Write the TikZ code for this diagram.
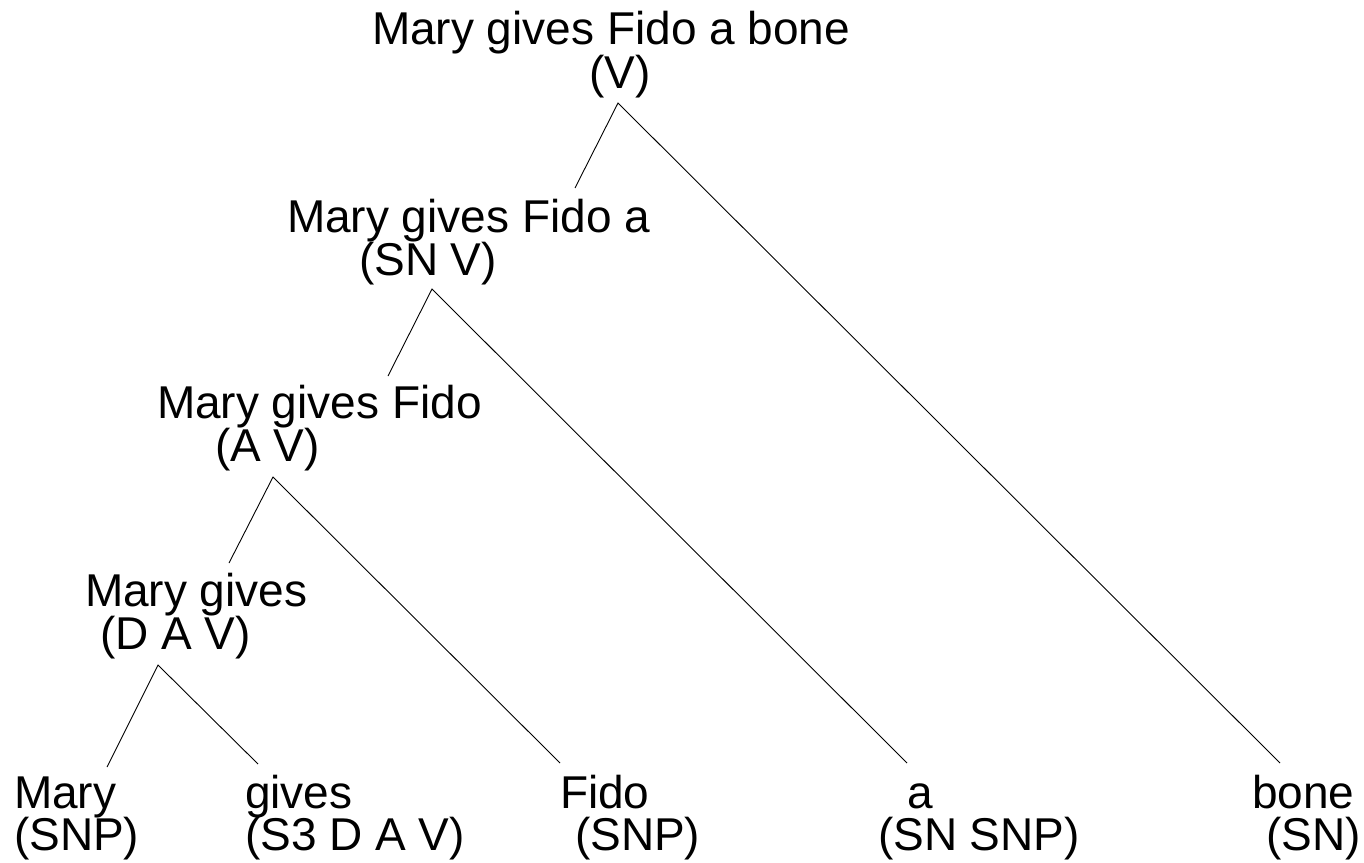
\documentclass[tikz,border=0pt]{standalone}
\usepackage{fontspec}
\setmainfont{Liberation Sans}
\begin{document}
\begin{tikzpicture}[x=1pt,y=-1pt,
  lbl/.style={anchor=base west,inner sep=0pt,outer sep=0pt,font=\fontsize{46pt}{43pt}\selectfont},
  edge/.style={line width=0.9pt,black}]
\useasboundingbox (0,0) rectangle (1364,862);
% labels
\node[lbl] (r1) at (372,44) {Mary gives Fido a bone};
\node[lbl] (r2) at (589,88) {(V)};
\node[lbl] (s1) at (287,232) {Mary gives Fido a};
\node[lbl] (s2) at (359,275) {(SN V)};
\node[lbl] (t1) at (157,418) {Mary gives Fido};
\node[lbl] (t2) at (215,461) {(A V)};
\node[lbl] (u1) at (85,606) {Mary gives};
\node[lbl] (u2) at (100,649) {(D A V)};
\node[lbl] (m1) at (14,808) {Mary};
\node[lbl] (m2) at (14,850) {(SNP)};
\node[lbl] (g1) at (245,808) {gives};
\node[lbl] (g2) at (245,850) {(S3 D A V)};
\node[lbl] (f1) at (560,808) {Fido};
\node[lbl] (f2) at (575,850) {(SNP)};
\node[lbl] (a1) at (907,808) {a};
\node[lbl] (a2) at (878,850) {(SN SNP)};
\node[lbl] (b1) at (1252,808) {bone};
\node[lbl] (b2) at (1266,850) {(SN)};
% connector ends
\coordinate (rA) at (618,103);
\coordinate (sA) at (432,289);
\coordinate (tA) at (273,477);
\coordinate (uA) at (158,665);
\coordinate (sT) at (575,188);
\coordinate (tT) at (388,376);
\coordinate (uT) at (229,563);
\coordinate (mT) at (107,767);
\coordinate (gT) at (258,764);
\coordinate (fT) at (560,763);
\coordinate (aT) at (907,763);
\coordinate (bT) at (1280,763);
% connectors
\draw[edge] (sT) -- (rA) -- (bT);
\draw[edge] (tT) -- (sA) -- (aT);
\draw[edge] (uT) -- (tA) -- (fT);
\draw[edge] (mT) -- (uA) -- (gT);
\end{tikzpicture}
\end{document}
